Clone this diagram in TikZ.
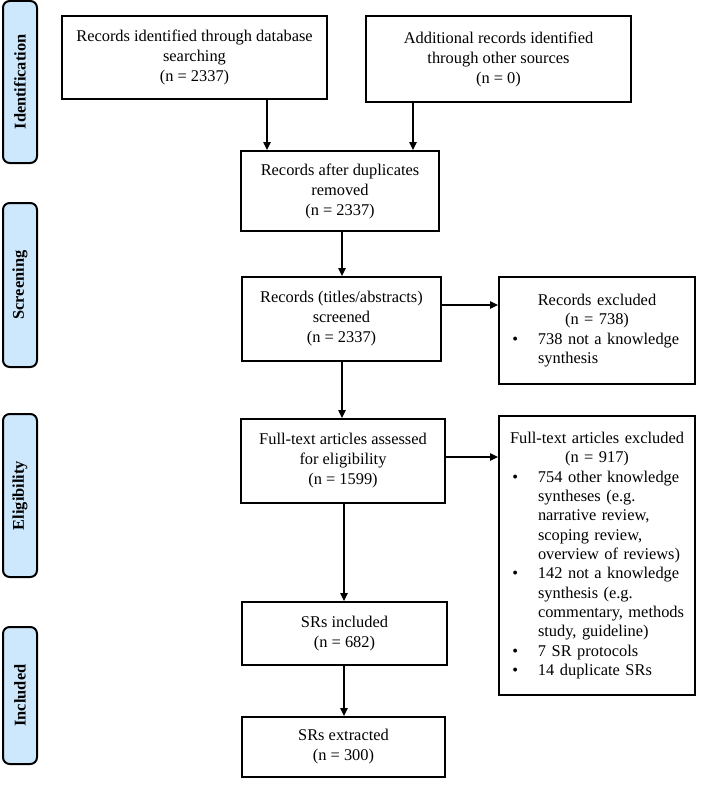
\documentclass[tikz,border=0pt]{standalone}
\usepackage{fontspec}
\setmainfont{Liberation Serif}
\usetikzlibrary{arrows.meta}
\definecolor{phase}{RGB}{205,232,252}
\newcommand{\fs}{\fontsize{12.3}{15}\selectfont}
\newcommand{\fsl}{\fontsize{12.3}{14.5}\selectfont}
\newcommand{\bitem}[1]{\par\noindent\hangindent=21.75pt\hangafter=1\makebox[21.75pt][l]{\hspace{2.5pt}\textbullet}#1}
\begin{document}
\begin{tikzpicture}[x=0.75pt,y=-0.75pt,
  box/.style 2 args={draw, line width=1.4pt, minimum width=#1*0.75pt, minimum height=#2*0.75pt, inner sep=0pt, align=center, font=\fs},
  exbox/.style={draw, line width=1.4pt, text width=132pt, inner xsep=7.5pt, inner ysep=0pt, minimum height=#1*0.75pt, font=\fsl},
  phasebox/.style 2 args={draw, fill=phase, line width=1.5pt, rounded corners=5pt, minimum width=#1*0.75pt, minimum height=#2*0.75pt, inner sep=0pt},
  phaselabel/.style={rotate=90, font=\fs\bfseries},
  arr/.style={line width=0.9pt, -{Triangle[length=6pt,width=5.5pt]}}]
\useasboundingbox (0,0) rectangle (702,792);

% phase labels
\node[phasebox={34}{162}] (pid) at (20,82) {};
\node[phaselabel] at (pid.center) {Identification};
\node[phasebox={34}{164}] (pscr) at (20,285) {};
\node[phaselabel] at (pscr.center) {Screening};
\node[phasebox={34}{163}] (pel) at (20,495.5) {};
\node[phaselabel] at (pel.center) {Eligibility};
\node[phasebox={34}{137}] (pinc) at (20,695.5) {};
\node[phaselabel] at (pinc.center) {Included};

% main boxes
\node[box={265}{83}] (id1) at (194.5,57.5) {Records identified through database\\searching\\(n = 2337)};
\node[box={265}{86}] (id2) at (498.5,59) {Additional records identified\\through other sources\\(n = 0)};
\node[box={198}{80}] (dup) at (340,191) {Records after duplicates\\removed\\(n = 2337)};
\node[box={199}{84}] (scr) at (341.5,319) {Records (titles/abstracts)\\screened\\(n = 2337)};
\node[box={204}{84}] (full) at (343,461) {Full-text articles assessed\\for eligibility\\(n = 1599)};
\node[box={205}{63}] (inc) at (344.5,633.5) {SRs included\\(n = 682)};
\node[box={203}{60}] (ext) at (343.5,747) {SRs extracted\\(n = 300)};

\node[exbox=107] (exc1) at (597,330.5) {\parindent=0pt{\centering Records excluded\\(n = 738)\par}%
\bitem{738 not a knowledge\newline synthesis}\par};
\node[exbox=279] (exc2) at (597,555.5) {\parindent=0pt{\centering Full-text articles excluded\\(n = 917)\par}%
\bitem{754 other knowledge\newline syntheses (e.g.\newline narrative review,\newline scoping review,\newline overview of reviews)}%
\bitem{142 not a knowledge\newline synthesis (e.g.\newline commentary, methods\newline study, guideline)}%
\bitem{7 SR protocols}%
\bitem{14 duplicate SRs}\par};

% connector guide coordinates
\coordinate (a1) at (267,0);
\coordinate (a2) at (413,0);
\coordinate (a3) at (342,0);
\coordinate (a4) at (344,0);
\coordinate (h1) at (0,305);
\coordinate (h2) at (0,457);

\draw[arr] (a1 |- id1.south) -- (a1 |- dup.north);
\draw[arr] (a2 |- id2.south) -- (a2 |- dup.north);
\draw[arr] (a3 |- dup.south) -- (a3 |- scr.north);
\draw[arr] (a3 |- scr.south) -- (a3 |- full.north);
\draw[arr] (a4 |- full.south) -- (a4 |- inc.north);
\draw[arr] (a4 |- inc.south) -- (a4 |- ext.north);
\draw[arr] (h1 -| scr.east) -- (h1 -| exc1.west);
\draw[arr] (h2 -| full.east) -- (h2 -| exc2.west);
\end{tikzpicture}
\end{document}
